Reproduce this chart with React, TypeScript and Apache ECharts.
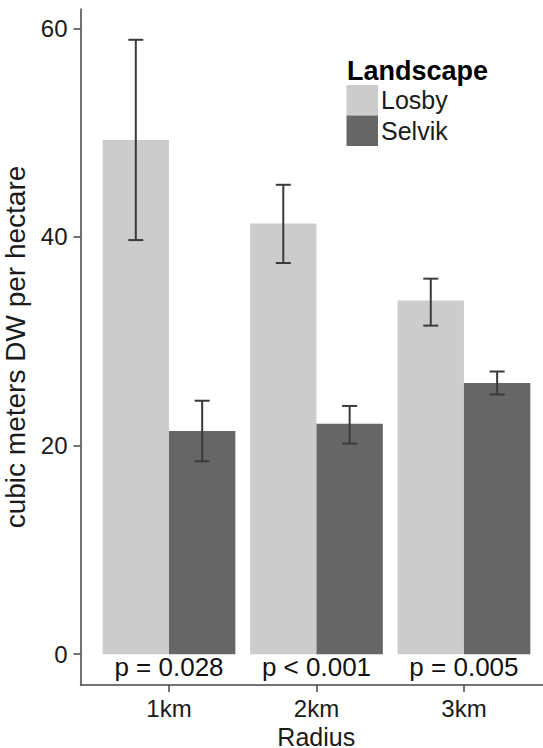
import React, { useEffect, useRef } from "react";
import * as echarts from "echarts";

const radiusCategories = ["1km", "2km", "3km"];
const landscapes = ["Losby", "Selvik"];
const losbyMean = [49.3, 41.3, 33.9];
const losbyLow = [39.7, 37.5, 31.5];
const losbyHigh = [58.9, 45.0, 36.0];
const selvikMean = [21.4, 22.1, 26.0];
const selvikLow = [18.5, 20.2, 24.9];
const selvikHigh = [24.3, 23.8, 27.1];
const pValueLabels = ["p = 0.028", "p < 0.001", "p = 0.005"];
const pValueY = [-1.25, -1.25, -1.25];
const yTickValues = [0, 20, 40, 60];
const xTickValues = [1, 2, 3];

const FONT = "'Liberation Sans', Arial, Helvetica, sans-serif";
const LOSBY_COLOR = "#cccccc";
const SELVIK_COLOR = "#666666";
const ERR_COLOR = "#3a3a3a";
const DODGE = 0.45;

function barSeries(name: string, values: number[], color: string, side: number) {
  return {
    name,
    type: "custom",
    itemStyle: { color },
    data: values.map((v, i) => [xTickValues[i], v]),
    renderItem: (params: any, api: any) => {
      const x = api.value(0);
      const v = api.value(1);
      const x0 = side < 0 ? x - DODGE : x;
      const x1 = side < 0 ? x : x + DODGE;
      const p0 = api.coord([x0, v]);
      const p1 = api.coord([x1, 0]);
      return {
        type: "rect",
        shape: { x: p0[0], y: p0[1], width: p1[0] - p0[0], height: p1[1] - p0[1] },
        style: { fill: color },
      };
    },
  };
}

function errorSeries(low: number[], high: number[], side: number) {
  return {
    type: "custom",
    silent: true,
    z: 5,
    data: low.map((l, i) => [xTickValues[i] + side * DODGE / 2, l, high[i]]),
    renderItem: (params: any, api: any) => {
      const x = api.value(0);
      const lo = api.coord([x, api.value(1)]);
      const hi = api.coord([x, api.value(2)]);
      const cap = 7.5;
      const st = { stroke: ERR_COLOR, lineWidth: 2 };
      return {
        type: "group",
        children: [
          { type: "line", shape: { x1: lo[0], y1: lo[1], x2: hi[0], y2: hi[1] }, style: st },
          { type: "line", shape: { x1: lo[0] - cap, y1: lo[1], x2: lo[0] + cap, y2: lo[1] }, style: st },
          { type: "line", shape: { x1: hi[0] - cap, y1: hi[1], x2: hi[0] + cap, y2: hi[1] }, style: st },
        ],
      };
    },
  };
}

export default function App() {
  const ref = useRef<HTMLDivElement>(null);
  useEffect(() => {
    if (!ref.current) return;
    const chart = echarts.init(ref.current, undefined, { renderer: "svg", width: 543, height: 748 });
    const option: any = {
      animation: false,
      backgroundColor: "#ffffff",
      textStyle: { fontFamily: FONT },
      grid: { left: 80.5, right: 0, top: 9, bottom: 63, containLabel: false, outerBoundsMode: "none" },
      legend: {
        orient: "vertical",
        left: 346.5,
        top: 85,
        padding: 0,
        itemGap: 0,
        itemWidth: 31.5,
        itemHeight: 30.5,
        icon: "rect",
        data: landscapes,
        textStyle: { fontSize: 25, color: "#1a1a1a", fontFamily: FONT, lineHeight: 30, padding: [0, 0, 0, -2] },
        selectedMode: false,
      },
      xAxis: {
        type: "value",
        min: 0.4,
        max: 3.536,
        name: "Radius",
        nameLocation: "middle",
        nameGap: 35,
        nameTextStyle: { fontSize: 25, lineHeight: 24, color: "#1a1a1a", fontFamily: FONT, padding: [0, 0, 0, 9] },
        axisLine: { show: true, onZero: false, lineStyle: { color: "#444444", width: 1.5 } },
        axisTick: { show: true, length: 7, customValues: xTickValues, lineStyle: { color: "#444444", width: 1.5 } },
        axisLabel: {
          customValues: xTickValues,
          margin: 11,
          fontSize: 24,
          color: "#1a1a1a",
          fontFamily: FONT,
          formatter: (v: number) => radiusCategories[Math.round(v) - 1],
        },
        splitLine: { show: false },
      },
      yAxis: {
        type: "value",
        min: -2.95,
        max: 61.85,
        name: "cubic meters DW per hectare",
        nameLocation: "middle",
        nameGap: 36,
        nameTextStyle: { fontSize: 28, color: "#1a1a1a", fontFamily: FONT },
        axisLine: { show: true, onZero: false, lineStyle: { color: "#444444", width: 1.5 } },
        axisTick: { show: true, length: 7, customValues: yTickValues, lineStyle: { color: "#444444", width: 1.5 } },
        axisLabel: {
          customValues: yTickValues,
          margin: 13,
          fontSize: 24,
          color: "#1a1a1a",
          fontFamily: FONT,
        },
        splitLine: { show: false },
      },
      graphic: [
        {
          type: "text",
          left: 347,
          top: 57,
          style: { text: "Landscape", font: `bold 27px ${FONT}`, fill: "#000000" },
        },
      ],
      series: [
        barSeries(landscapes[0], losbyMean, LOSBY_COLOR, -1),
        barSeries(landscapes[1], selvikMean, SELVIK_COLOR, 1),
        errorSeries(losbyLow, losbyHigh, -1),
        errorSeries(selvikLow, selvikHigh, 1),
        {
          type: "custom",
          silent: true,
          z: 6,
          data: pValueLabels.map((t, i) => [xTickValues[i], pValueY[i], t]),
          renderItem: (params: any, api: any) => {
            const p = api.coord([api.value(0), api.value(1)]);
            return {
              type: "text",
              x: p[0],
              y: p[1],
              style: {
                text: pValueLabels[params.dataIndex],
                font: `26px ${FONT}`,
                fill: "#111111",
                textAlign: "center",
                textVerticalAlign: "middle",
              },
            };
          },
        },
      ],
    };
    chart.setOption(option);
    return () => chart.dispose();
  }, []);
  return (
    <div
      ref={ref}
      style={{ position: "fixed", left: 0, top: 0, width: 543, height: 748 }}
    />
  );
}
